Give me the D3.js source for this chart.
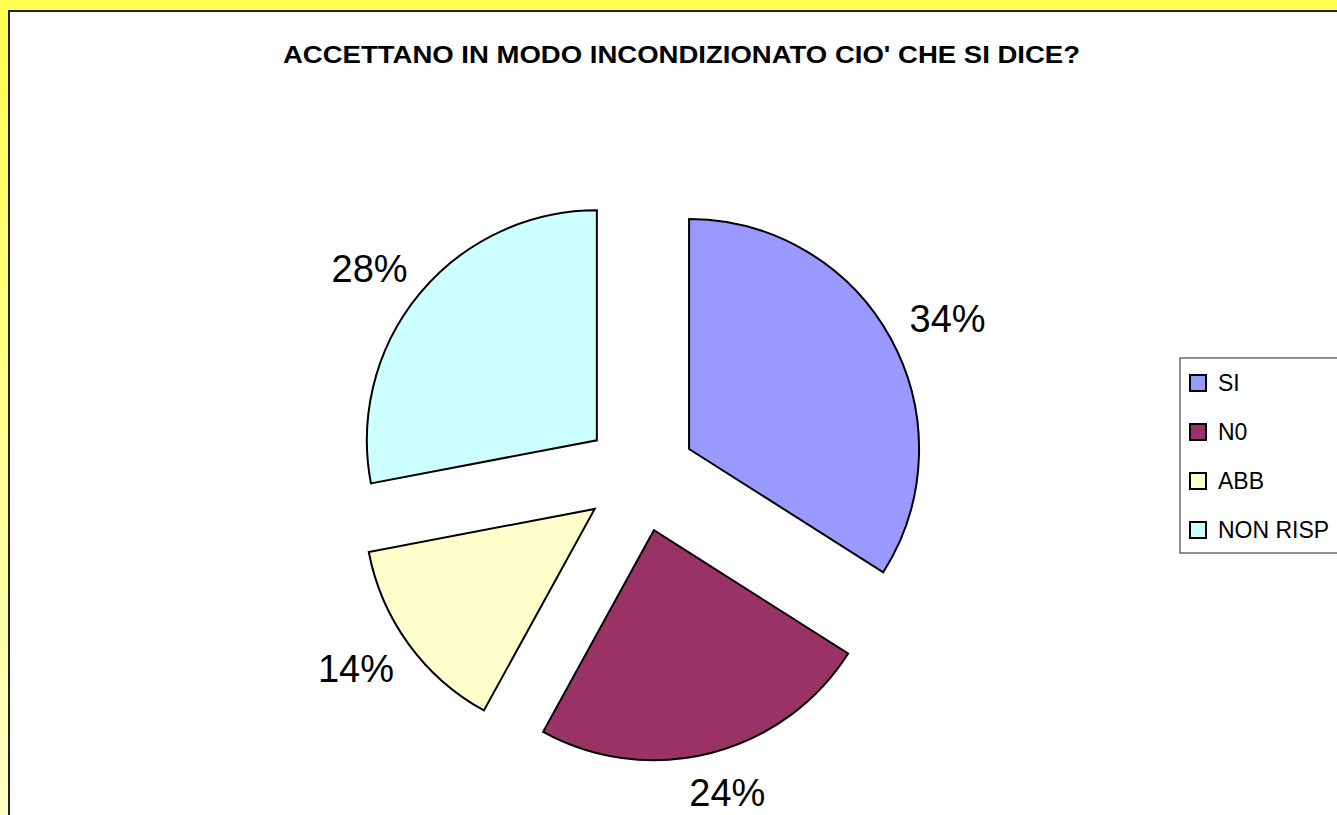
<!DOCTYPE html>
<html>
<head>
<meta charset="utf-8">
<script src="https://cdn.jsdelivr.net/npm/d3@7"></script>
<style>
  html, body { margin: 0; padding: 0; background: #fff; }
  svg { display: block; font-family: "Liberation Sans", Arial, sans-serif; }
</style>
</head>
<body>
<svg id="chart" width="1337" height="815"></svg>
<script>
// chart data
var titleText = "ACCETTANO IN MODO INCONDIZIONATO CIO' CHE SI DICE?";
var categories = ["SI", "N0", "ABB", "NON RISP"];
var values = [34, 24, 14, 28];
var colors = ["#9999ff", "#993366", "#ffffcc", "#ccffff"];

var W = 1337, H = 815;
var svg = d3.select("#chart");

// yellow frame behind the chart area
var defs = svg.append("defs");
var grad = defs.append("linearGradient")
    .attr("id", "frame")
    .attr("x1", 0).attr("y1", 0).attr("x2", 0).attr("y2", 1);
grad.append("stop").attr("offset", "0%").attr("stop-color", "#ffff4f");
grad.append("stop").attr("offset", "100%").attr("stop-color", "#ffffc4");
svg.append("rect").attr("width", W).attr("height", H).attr("fill", "url(#frame)");

// white chart area, running off the right and bottom edges
svg.append("rect")
    .attr("x", 9).attr("y", 11)
    .attr("width", W + 20).attr("height", H + 20)
    .attr("fill", "#fff")
    .attr("stroke", "#222")
    .attr("stroke-width", 2);

// title
svg.append("text")
    .attr("x", 283).attr("y", 63)
    .attr("textLength", 797)
    .attr("lengthAdjust", "spacingAndGlyphs")
    .style("font-weight", "bold")
    .style("font-size", "23px")
    .text(titleText);

// exploded pie
var cx = 640, cy = 476, radius = 230, explode = 56, labelR = 313;

var pie = d3.pie().sort(null).value(function(d) { return d; });
var arcs = pie(values);
var arc = d3.arc().innerRadius(0).outerRadius(radius);

var g = svg.append("g").attr("transform", "translate(" + cx + "," + cy + ")");

function midAngle(d) { return (d.startAngle + d.endAngle) / 2; }

g.selectAll("path.slice")
    .data(arcs)
    .enter()
    .append("path")
    .attr("class", "slice")
    .attr("transform", function(d) {
        var a = midAngle(d);
        return "translate(" + (Math.sin(a) * explode) + "," + (-Math.cos(a) * explode) + ")";
    })
    .attr("d", arc)
    .attr("fill", function(d, i) { return colors[i]; })
    .attr("stroke", "#000")
    .attr("stroke-width", 2)
    .attr("stroke-linejoin", "miter");

// labels: anchor point on a circle, then push the text box outward
var total = d3.sum(values);
g.selectAll("text.lbl")
    .data(arcs)
    .enter()
    .append("text")
    .attr("class", "lbl")
    .attr("text-anchor", "middle")
    .attr("dy", "0.36em")
    .style("font-size", "38px")
    .text(function(d) { return Math.round(d.value / total * 100) + "%"; })
    .each(function(d) {
        var a = midAngle(d),
            w = this.getComputedTextLength(),
            h = 27,
            dx = Math.sin(a), dy = -Math.cos(a);
        d3.select(this)
            .attr("x", dx * labelR + dx * w / 2)
            .attr("y", dy * labelR + dy * h / 2);
    });

// legend
var lg = svg.append("g").attr("transform", "translate(1180,358)");
lg.append("rect")
    .attr("width", 200).attr("height", 195)
    .attr("fill", "#fff")
    .attr("stroke", "#222")
    .attr("stroke-width", 1);

var rowY = d3.scalePoint().domain(categories).range([25, 172]);

var item = lg.selectAll("g.item")
    .data(categories)
    .enter()
    .append("g")
    .attr("class", "item")
    .attr("transform", function(d) { return "translate(0," + rowY(d) + ")"; });

item.append("rect")
    .attr("x", 10).attr("y", -8)
    .attr("width", 16).attr("height", 16)
    .attr("fill", function(d, i) { return colors[i]; })
    .attr("stroke", "#000")
    .attr("stroke-width", 2);

item.append("text")
    .attr("x", 38).attr("y", 0)
    .attr("dy", "0.36em")
    .style("font-size", "23px")
    .text(function(d) { return d; });
</script>
</body>
</html>
